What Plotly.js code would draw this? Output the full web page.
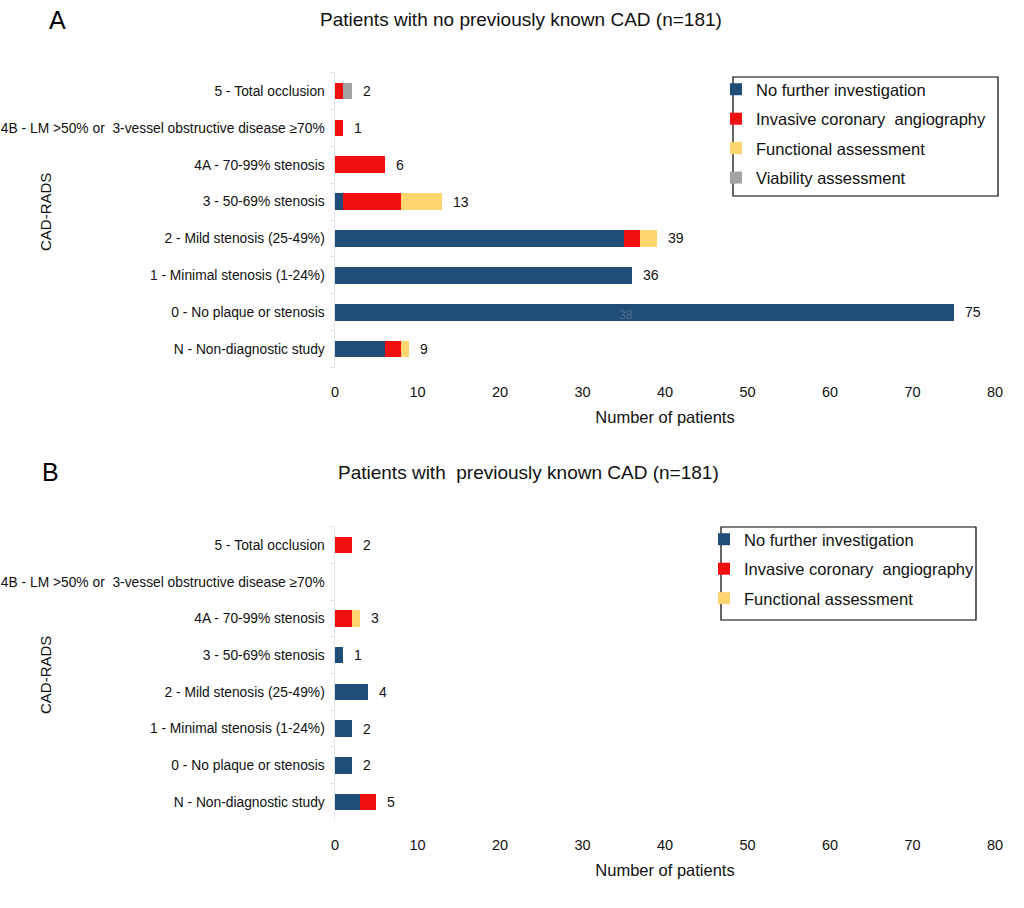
<!DOCTYPE html>
<html>
<head>
<meta charset="utf-8">
<script src="https://cdn.plot.ly/plotly-3.0.1.min.js"></script>
<style>html,body{margin:0;padding:0;background:#fff;}</style>
</head>
<body>
<div id="chart" style="width:1024px;height:908px;"></div>
<script>
// Categories (bottom to top)
const categories = [
  "N - Non-diagnostic study",
  "0 - No plaque or stenosis",
  "1 - Minimal stenosis (1-24%)",
  "2 - Mild stenosis (25-49%)",
  "3 - 50-69% stenosis",
  "4A - 70-99% stenosis",
  "4B - LM >50% or\u00a0 3-vessel obstructive disease \u226570%",
  "5 - Total occlusion"
];
const seriesNames = ["No further investigation", "Invasive coronary\u00a0 angiography", "Functional assessment", "Viability assessment"];
const seriesColors = ["#1f4d78", "#f01010", "#fed56f", "#a3a3a3"];

// Panel A: no previously known CAD
const A_noFurther  = [6, 75, 36, 35, 1, 0, 0, 0];
const A_invasive   = [2, 0, 0, 2, 7, 6, 1, 1];
const A_functional = [1, 0, 0, 2, 5, 0, 0, 0];
const A_viability  = [0, 0, 0, 0, 0, 0, 0, 1];

// Panel B: previously known CAD
const B_noFurther  = [3, 2, 2, 4, 1, 0, 0, 0];
const B_invasive   = [2, 0, 0, 0, 0, 2, 0, 2];
const B_functional = [0, 0, 0, 0, 0, 1, 0, 0];

const xTicks = [0, 10, 20, 30, 40, 50, 60, 70, 80];

const A_series = [A_noFurther, A_invasive, A_functional, A_viability];
const B_series = [B_noFurther, B_invasive, B_functional];

const traces = [];
A_series.forEach((vals, i) => {
  traces.push({
    type: 'bar', orientation: 'h', x: vals, y: categories,
    name: seriesNames[i], marker: {color: seriesColors[i]},
    xaxis: 'x', yaxis: 'y', legend: 'legend', legendgroup: 'a' + i,
    hoverinfo: 'x+name'
  });
});
B_series.forEach((vals, i) => {
  traces.push({
    type: 'bar', orientation: 'h', x: vals, y: categories,
    name: seriesNames[i], marker: {color: seriesColors[i]},
    xaxis: 'x2', yaxis: 'y2', legend: 'legend2', legendgroup: 'b' + i,
    hoverinfo: 'x+name'
  });
});

function totals(series) {
  return categories.map((c, k) => series.reduce((s, arr) => s + arr[k], 0));
}
const A_tot = totals(A_series);
const B_tot = totals(B_series);

const annotations = [];
A_tot.forEach((t, k) => {
  if (t > 0) annotations.push({x: t, y: categories[k], xref: 'x', yref: 'y', text: String(t),
    showarrow: false, xanchor: 'left', yanchor: 'middle', xshift: 9, font: {size: 14, color: '#111'}});
});
B_tot.forEach((t, k) => {
  if (t > 0) annotations.push({x: t, y: categories[k], xref: 'x2', yref: 'y2', text: String(t),
    showarrow: false, xanchor: 'left', yanchor: 'middle', xshift: 9, font: {size: 14, color: '#111'}});
});
// faint stray label inside the "0" bar of panel A
annotations.push({x: 35.3, y: categories[1], xref: 'x', yref: 'y', text: '38', showarrow: false,
  xanchor: 'center', yanchor: 'middle', yshift: -3, font: {size: 12, color: '#4f6d8c'}});

const W = 1024, H = 908;
const px = v => v / W;
const py = v => 1 - v / H;
const centerTxt = (x, y, text, size, extra) => Object.assign({x: px(x), y: py(y), xref: 'paper', yref: 'paper',
  text: text, showarrow: false, xanchor: 'center', yanchor: 'middle', font: {size: size, color: '#111'}}, extra || {});

annotations.push(
  centerTxt(57, 20, 'A', 25, {font: {size: 25, color: '#000'}}),
  centerTxt(50, 472, 'B', 25, {font: {size: 25, color: '#000'}}),
  centerTxt(521, 20, 'Patients with no previously known CAD (n=181)', 19),
  centerTxt(528, 472, 'Patients with\u00a0 previously known CAD (n=181)', 19),
  centerTxt(45, 212, 'CAD-RADS', 15, {textangle: -90}),
  centerTxt(45, 675, 'CAD-RADS', 15, {textangle: -90})
);

const yAxisCommon = {
  type: 'category', categoryorder: 'array', categoryarray: categories,
  showline: true, linecolor: '#dfe3e8', linewidth: 1.5,
  ticks: 'outside', ticklen: 4, tickcolor: '#dfe3e8', tickson: 'boundaries',
  showgrid: false, zeroline: false, ticklabelstandoff: 6,
  tickfont: {size: 13.8, color: '#111'}, fixedrange: true
};
const xTitle = {text: 'Number of patients', font: {size: 16.5, color: '#111'}, standoff: 12};
const xAxisCommon = {
  range: [0, 80], tickvals: xTicks, ticktext: xTicks.map(String),
  showline: false, showgrid: false, zeroline: false, ticks: '',
  ticklabelstandoff: 14, tickfont: {size: 14.5, color: '#111'},
  title: xTitle, fixedrange: true
};

const legendCommon = {xanchor: 'left', yanchor: 'top', bgcolor: 'rgba(0,0,0,0)', borderwidth: 0,
  traceorder: 'grouped', tracegroupgap: 5, font: {size: 16.5, color: '#111'}, itemwidth: 30};

const layout = {
  width: W, height: H,
  margin: {l: 0, r: 0, t: 0, b: 0},
  paper_bgcolor: '#fff', plot_bgcolor: '#fff',
  font: {family: 'Liberation Sans, Arial, sans-serif', color: '#111'},
  barmode: 'stack', bargap: 0.55,
  showlegend: true,
  xaxis: Object.assign({}, xAxisCommon, {domain: [px(335), px(995)], anchor: 'y'}),
  yaxis: Object.assign({}, yAxisCommon, {domain: [py(367.5), py(72.6)], anchor: 'x'}),
  xaxis2: Object.assign({}, xAxisCommon, {domain: [px(335), px(995)], anchor: 'y2', title: Object.assign({}, xTitle)}),
  yaxis2: Object.assign({}, yAxisCommon, {domain: [py(820.4), py(526.6)], anchor: 'x2'}),
  legend: Object.assign({}, legendCommon, {x: px(716), y: py(72)}),
  legend2: Object.assign({}, legendCommon, {x: px(704), y: py(522)}),
  shapes: [
    {type: 'rect', xref: 'paper', yref: 'paper', x0: px(733), x1: px(998), y0: py(196), y1: py(77), line: {color: '#000', width: 1.2}, fillcolor: 'rgba(0,0,0,0)'},
    {type: 'rect', xref: 'paper', yref: 'paper', x0: px(721), x1: px(976), y0: py(620), y1: py(527), line: {color: '#000', width: 1.2}, fillcolor: 'rgba(0,0,0,0)'}
  ],
  annotations: annotations
};

Plotly.newPlot('chart', traces, layout, {displayModeBar: false, staticPlot: true});
</script>
</body>
</html>
